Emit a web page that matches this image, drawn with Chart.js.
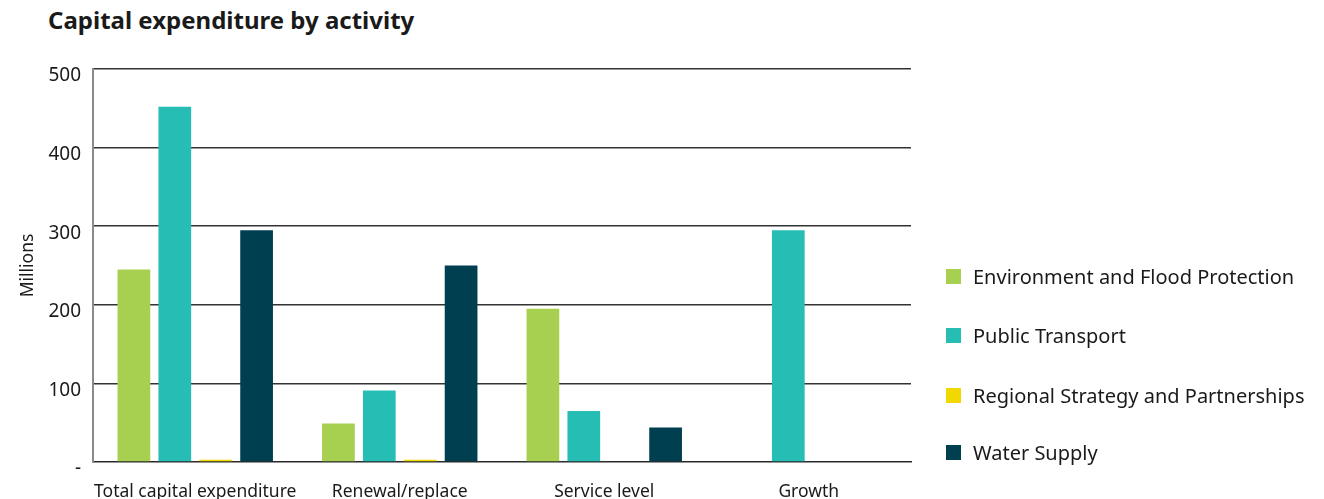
<!DOCTYPE html>
<html>
<head>
<meta charset="utf-8">
<script src="https://cdn.jsdelivr.net/npm/chart.js@4/dist/chart.umd.min.js"></script>
<style>
  html, body { margin: 0; padding: 0; background: #fff; }
  body { width: 1324px; height: 499px; position: relative; overflow: hidden; font-family: "Noto Sans", sans-serif; color: #1a1a1a; }
  #title { position: absolute; left: 48px; top: 3px; font-size: 24px; font-weight: 700; white-space: nowrap; }
  #wrap { position: absolute; left: 0; top: 0; width: 1324px; height: 499px; }
  #legend { position: absolute; left: 946px; top: 0; }
  .item { position: absolute; left: 0; display: flex; align-items: center; white-space: nowrap; font-size: 20px; height: 26px; }
  .box { width: 15px; height: 15px; margin-right: 12px; flex: none; }
</style>
</head>
<body>
<div id="title">Capital expenditure by activity</div>
<div id="wrap"><canvas id="c" width="1324" height="499"></canvas></div>
<div id="legend"></div>
<script>
const categories = ["Total capital expenditure", "Renewal/replace", "Service level", "Growth"];
const seriesNames = ["Environment and Flood Protection", "Public Transport", "Regional Strategy and Partnerships", "Water Supply"];
const envFlood = [245, 49, 195, 0];
const publicTransport = [452, 91, 65, 295];
const regionalStrategy = [3, 3, 0, 0];
const waterSupply = [295, 250, 44, 0];
const yTicks = [0, 100, 200, 300, 400, 500];
const colors = ["#a7cf50", "#26bdb4", "#f0d800", "#003f50"];

const seriesValues = [envFlood, publicTransport, regionalStrategy, waterSupply];

// HTML legend
const legend = document.getElementById('legend');
const legendCenters = [276, 335, 395, 452];
seriesNames.forEach((name, i) => {
  const it = document.createElement('div');
  it.className = 'item';
  it.style.top = (legendCenters[i] - 13) + 'px';
  const b = document.createElement('span');
  b.className = 'box';
  b.style.background = colors[i];
  const t = document.createElement('span');
  t.textContent = name;
  it.appendChild(b); it.appendChild(t);
  legend.appendChild(it);
});

Chart.defaults.font.family = '"Noto Sans", sans-serif';
Chart.defaults.color = '#1a1a1a';

new Chart(document.getElementById('c'), {
  type: 'bar',
  data: {
    labels: categories,
    datasets: seriesNames.map((n, i) => ({
      label: n,
      data: seriesValues[i],
      backgroundColor: colors[i],
      borderWidth: 0,
      categoryPercentage: 0.8,
      barPercentage: 0.8
    }))
  },
  options: {
    responsive: false,
    animation: false,
    layout: { padding: { top: 69, right: 413, left: 0, bottom: 0 } },
    plugins: { legend: { display: false }, tooltip: { enabled: false }, title: { display: false } },
    scales: {
      x: {
        grid: { display: false },
        border: { display: true, color: '#2a2a2a', width: 1.5 },
        ticks: { font: { size: 17.5 }, padding: 12, maxRotation: 0, autoSkip: false },
        afterFit: s => { s.height = 37; }
      },
      y: {
        min: 0, max: 500,
        afterBuildTicks: s => { s.ticks = yTicks.map(v => ({ value: v })); },
        grid: { color: ctx => ctx.tick && ctx.tick.value === 0 ? 'rgba(0,0,0,0)' : '#333333', lineWidth: 1.5, drawTicks: false },
        border: { display: true, color: '#8a8a8a', width: 2 },
        ticks: { font: { size: 19 }, padding: 12, labelOffset: 7, callback: v => v === 0 ? '-' : String(v) },
        title: { display: true, text: 'Millions', font: { size: 17.5 }, padding: { top: 18, bottom: 0 } },
        afterFit: s => { s.width = 93; }
      }
    }
  }
});
</script>
</body>
</html>
